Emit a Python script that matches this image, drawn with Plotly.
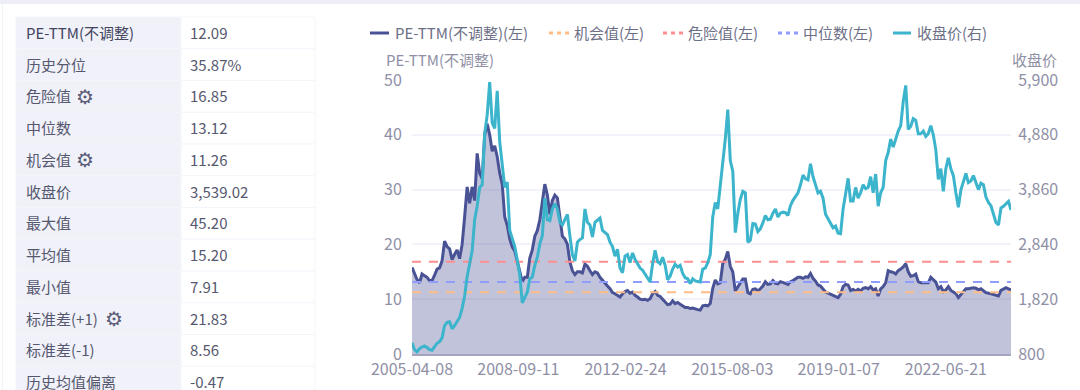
import pandas as pd
import plotly.graph_objects as go

START_DATE = "2005-04-08"
END_DATE = "2024-07-27"
TICK_DATES = ["2005-04-08", "2008-09-11", "2012-02-24", "2015-08-03", "2019-01-07", "2022-06-21"]

pe_ttm = [
    15.8, 14.6, 13.6, 13.0, 14.6, 14.3, 14.0, 13.4, 13.4, 14.4, 15.5, 15.7, 17, 20.6, 19.6, 19.2,
    17.2, 18.2, 19.0, 17.4, 20, 25, 30.5, 27.5, 30.5, 28, 36.6, 33, 32, 40, 42, 40,
    37, 38, 36, 33, 31, 25, 23.5, 21, 19.5, 18.8, 16.8, 15, 13.2, 14, 14, 17.5,
    19, 21.5, 22.5, 24.5, 27.5, 31, 29, 25.5, 28, 29, 28.5, 25, 21.5, 21, 20, 16.8,
    15.2, 14.5, 15, 15, 14.8, 16.4, 16, 15.2, 14.5, 15, 14.8, 14.0, 13.4, 13, 12.4, 11.9,
    11.2, 11, 10.7, 10.4, 11, 11.4, 11.6, 11.1, 11.3, 10.7, 10.4, 10, 9.9, 10, 9.8, 10.1,
    11, 11.4, 10.7, 10.5, 10, 9.4, 9, 9.1, 9.7, 9.2, 9.4, 9.1, 8.8, 8.5, 8.5, 8.3,
    8.4, 8.2, 8.1, 8, 8.8, 8.9, 8.8, 9.2, 12, 13.5, 12.8, 13, 16.5, 17.3, 18.7, 16,
    15, 11.5, 12.2, 13, 13.7, 13.7, 11.2, 11, 11.8, 11.9, 11.5, 11.9, 12.4, 13.2, 12.7, 12.8,
    13.4, 12.9, 12.8, 13.2, 13.1, 12.9, 12.7, 13.2, 13.4, 13.7, 14, 14.0, 13.8, 14.1, 14.0, 14.7,
    13.8, 13.3, 12.6, 12.4, 11.9, 11.3, 11.1, 10.9, 10.7, 10.6, 10.3, 10.9, 12.3, 12.7, 12.6, 11.6,
    11.8, 11.5, 11.8, 11.5, 12, 12.1, 11.9, 12.3, 11.7, 11.9, 10.6, 11.9, 12.3, 13, 15.2, 15,
    14.9, 14.6, 15.2, 15.5, 15.9, 16.5, 15, 14.2, 14.3, 14.6, 13.2, 13, 13, 13, 13, 14,
    13.6, 13.1, 11.9, 12.3, 11.4, 11.7, 12.3, 11.6, 11.3, 11, 10.3, 10.9, 11.4, 11.9, 11.9, 12,
    12.1, 12, 11.7, 11.9, 11.5, 11.2, 11.1, 11, 10.8, 10.7, 10.6, 11.6, 11.9, 12.1, 11.9, 11.7,
]

close_price = [
    1010, 880, 840, 900, 930, 950, 920, 880, 870, 930, 1000, 1030, 1100, 1330, 1390, 1400,
    1270, 1330, 1410, 1480, 1650, 1880, 2240, 2500, 2720, 3300, 3550, 3900, 3950, 4900, 5250, 5860,
    5100, 5000, 5700, 4750, 4300, 3900, 4000, 3100, 2950, 2800, 2550, 2270, 1750, 1850, 1950, 2200,
    2230, 2450, 2600, 2850, 3000, 3700, 3300, 3280, 3500, 3600, 3500, 3250, 3200, 3300, 3400, 3000,
    2650, 2530, 2880, 2930, 2960, 3500, 3250, 3200, 2980, 3250, 3300, 3330, 3100, 3060, 3020, 2880,
    2800, 2620, 2750, 2400, 2310, 2620, 2650, 2500, 2680, 2560, 2470, 2400, 2360, 2280, 2220, 2140,
    2480, 2730, 2520, 2480, 2600, 2450, 2180, 2250, 2380, 2470, 2420, 2450, 2300, 2220, 2200, 2110,
    2200, 2160, 2150, 2140, 2380, 2400, 2500, 2650, 3350, 3620, 3500, 3900, 4300, 4800, 5350, 4400,
    4200, 3060, 3420, 3680, 3830, 3800, 2880, 2920, 3230, 3220, 3080, 3130, 3240, 3380, 3300, 3310,
    3420, 3500, 3350, 3420, 3440, 3430, 3380, 3560, 3660, 3720, 3800, 3950, 4130, 4060, 4040, 4340,
    4100, 3950, 3800, 3830, 3700, 3400, 3320, 3240, 3150, 3180, 3050, 3040, 3500, 3780, 4070, 3650,
    3650, 3900, 3700, 3800, 3950, 3880, 3900, 4100, 3800, 4150, 3550, 3800, 3900, 4400, 4550, 4800,
    4650, 4800, 4950, 5050, 5500, 5800, 4980, 5040, 5180, 5150, 4900, 4900, 4950, 4850, 4900, 5050,
    4880, 4600, 4050, 4250, 3830, 4250, 4450, 4250, 4120, 3800, 3530, 3850, 4000, 4160, 3990, 4020,
    4120, 3980, 3860, 3980, 3950, 3720, 3620, 3560, 3380, 3250, 3200, 3520, 3550, 3600, 3640, 3480,
]

danger_value = 16.85
median_value = 13.12
chance_value = 11.26

row_labels = ["PE-TTM(不调整)", "历史分位", "危险值", "中位数", "机会值", "收盘价",
              "最大值", "平均值", "最小值", "标准差(+1)", "标准差(-1)", "历史均值偏离"]
row_values = ["12.09", "35.87%", "16.85", "13.12", "11.26", "3,539.02",
              "45.20", "15.20", "7.91", "21.83", "8.56", "-0.47"]
gear_rows = {"危险值": 74, "机会值": 74, "标准差(+1)": 103}

legend_labels = ["PE-TTM(不调整)(左)", "机会值(左)", "危险值(左)", "中位数(左)", "收盘价(右)"]
left_ticks = [0, 10, 20, 30, 40, 50]
right_ticks = [800, 1820, 2840, 3860, 4880, 5900]

W, H = 1080, 390
FONT = "Noto Sans CJK SC"
C_PE, C_CLOSE = "#4a5296", "#3bb4cc"
C_DANGER, C_MEDIAN, C_CHANCE = "#ff8f8f", "#8f9dff", "#ffbd85"
AXIS_TXT = "#8f90a6"


def px(x):
    return x / W


def py(y):
    return 1 - y / H


dates = pd.date_range(START_DATE, END_DATE, periods=len(pe_ttm))
n = len(dates)
fig = go.Figure()
fig.add_trace(go.Scatter(x=dates, y=pe_ttm, mode="lines", line=dict(color=C_PE, width=3),
                         fill="tozeroy", fillcolor="rgba(74,82,150,0.35)", name=legend_labels[0]))
for value, colour, label in [(chance_value, C_CHANCE, legend_labels[1]),
                             (danger_value, C_DANGER, legend_labels[2]),
                             (median_value, C_MEDIAN, legend_labels[3])]:
    fig.add_trace(go.Scatter(x=dates, y=[value] * n, mode="lines", name=label,
                             line=dict(color=colour, width=2, dash="9px,8px")))
fig.add_trace(go.Scatter(x=dates, y=close_price, mode="lines", yaxis="y2", name=legend_labels[4],
                         line=dict(color=C_CLOSE, width=3)))

shapes, notes = [], []


def rect(x0, y0, x1, y1, fill, line=None):
    shapes.append(dict(type="rect", xref="paper", yref="paper", x0=px(x0), x1=px(x1), y0=py(y0), y1=py(y1),
                       fillcolor=fill, line=dict(width=1 if line else 0, color=line or fill), layer="below"))


def text(x, y, s, size=15, colour="#54566f", anchor="left"):
    notes.append(dict(xref="paper", yref="paper", x=px(x), y=py(y), text=s, showarrow=False, xanchor=anchor,
                      yanchor="middle", font=dict(family=FONT, size=size, color=colour)))


rect(0, 0, W, 4, "#ecedf7")
rect(2, 4, 3, H, "#f1f2f9")
ROW_TOP, ROW_H = 17, 31.75
for i, (label, value) in enumerate(zip(row_labels, row_values)):
    top = ROW_TOP + i * ROW_H
    rect(16, top, 181, top + ROW_H, "#f0f1f9", "#f4f5fb")
    rect(181, top, 315, top + ROW_H, "#ffffff", "#f4f5fb")
    text(24, top + ROW_H / 2 - 0.5, label, colour="#43455f" if i == 0 else "#56586f")
    text(188, top + ROW_H / 2 - 0.5, value, colour="#56586f")
    if label in gear_rows:
        text(gear_rows[label], top + ROW_H / 2 - 1, "⚙", size=20, colour="#5b5d78")

# legend
legend_items = [(370, 389, 393, C_PE, None), (549, 569, 572, C_CHANCE, "4px,4px"), (663, 683, 686, C_DANGER, "4px,4px"),
                (778, 798, 801, C_MEDIAN, "4px,4px"), (893, 911, 915, C_CLOSE, None)]
for (x0, x1, tx, colour, dash), label in zip(legend_items, legend_labels):
    shapes.append(dict(type="line", xref="paper", yref="paper", x0=px(x0), x1=px(x1), y0=py(33), y1=py(33),
                       line=dict(color=colour, width=3, dash=dash or "solid")))
    text(tx, 32, label, colour="#6d6f87")

text(384, 59, "PE-TTM(不调整)", size=15, colour=AXIS_TXT)
text(1059, 59, "收盘价", size=15, colour=AXIS_TXT, anchor="right")

tick_font = dict(family=FONT, size=16, color=AXIS_TXT)
fig.update_layout(
    width=W, height=H, margin=dict(l=0, r=0, t=0, b=0, autoexpand=False), showlegend=False,
    paper_bgcolor="white", plot_bgcolor="white", shapes=shapes, annotations=notes,
    font=dict(family=FONT, size=14, color=AXIS_TXT),
    xaxis=dict(domain=[px(412), px(1011)], type="date", range=[START_DATE, END_DATE], tickvals=TICK_DATES,
               ticktext=TICK_DATES, tickfont=tick_font, showgrid=False, zeroline=False, showline=True,
               linecolor="#a3a4bd", linewidth=1.5, ticks=""),
    yaxis=dict(domain=[py(354), py(80)], range=[0, 50], tickvals=left_ticks, tickfont=tick_font,
               gridcolor="#f2f3fa", gridwidth=1.5, zeroline=False, showline=False, ticks="outside", ticklen=6,
               tickcolor="rgba(0,0,0,0)"),
    yaxis2=dict(overlaying="y", side="right", anchor="x", range=[800, 5900], tickvals=right_ticks, tickformat=",",
                tickfont=tick_font, showgrid=False, zeroline=False, showline=False, ticks="outside", ticklen=3,
                tickcolor="rgba(0,0,0,0)"),
)

fig.write_html("out.html", config=dict(displayModeBar=False),
               post_script="document.body.style.margin='0';document.body.style.overflow='hidden';")
